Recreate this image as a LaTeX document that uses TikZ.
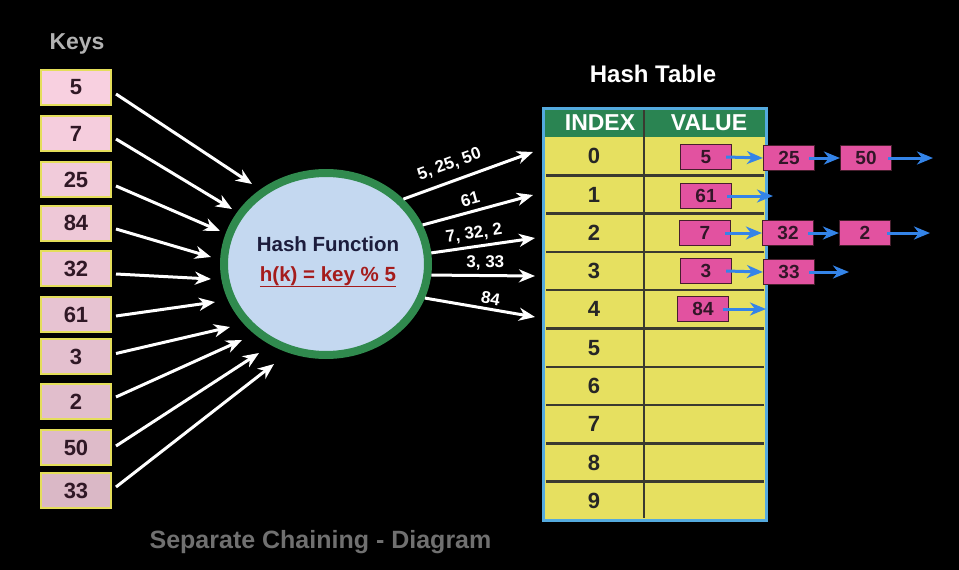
\documentclass[tikz,border=0pt]{standalone}
\usepackage{fontspec}
\setmainfont{Liberation Sans}
\usetikzlibrary{arrows.meta,shapes.geometric,calc}
\definecolor{keytop}{RGB}{248,208,224}
\definecolor{keybot}{RGB}{218,184,198}
\definecolor{keyborder}{RGB}{228,222,90}
\definecolor{keytext}{RGB}{48,24,38}
\definecolor{hfblue}{RGB}{196,216,240}
\definecolor{hfgreen}{RGB}{48,138,78}
\definecolor{hfnavy}{RGB}{28,28,60}
\definecolor{hfred}{RGB}{165,28,28}
\definecolor{tyellow}{RGB}{230,224,96}
\definecolor{thead}{RGB}{42,132,82}
\definecolor{tborder}{RGB}{84,170,222}
\definecolor{tline}{RGB}{58,58,48}
\definecolor{vpink}{RGB}{226,82,160}
\definecolor{vborder}{RGB}{70,30,45}
\definecolor{vtext}{RGB}{50,22,40}
\definecolor{ablue}{RGB}{52,132,232}
\definecolor{keysgray}{RGB}{178,178,178}
\definecolor{capgray}{RGB}{112,112,112}
\newcommand\fsz[1]{\fontsize{#1}{#1}\selectfont\bfseries}
\begin{document}
\begin{tikzpicture}[x=1pt,y=-1pt,
 keybox/.style={draw=keyborder,line width=2pt,minimum width=70pt,minimum height=35pt,inner sep=0pt,text=keytext,font=\fsz{22}},
 warrow/.style={draw=white,line width=3pt,-{Stealth[length=16pt,width=13pt,inset=5pt]}},
 barrow/.style={draw=ablue,line width=3pt,-{Stealth[length=16pt,width=13pt,inset=5pt]}},
 vbox/.style={draw=vborder,line width=1.2pt,fill=vpink,minimum width=51pt,minimum height=25pt,inner sep=0pt,text=vtext,font=\fsz{19}},
 idx/.style={text=black!85,font=\fsz{22}},
 hdr/.style={text=white,font=\fsz{23}},
 flow/.style={text=white,font=\fsz{17},sloped,inner sep=1pt}
]
\fill[black] (0,0) rectangle (959,570);
\useasboundingbox (0,0) rectangle (959,570);

% titles
\node[text=keysgray,font=\fsz{23},anchor=base] (keystitle) at (77,49) {Keys};
\node[text=white,font=\fsz{24},anchor=base] (tabletitle) at (653,82) {Hash Table};
\node[text=capgray,font=\fsz{25},anchor=base] (caption) at (320.5,548) {Separate Chaining - Diagram};

% hash function
\node[ellipse,draw=hfgreen,line width=8pt,fill=hfblue,minimum width=204pt,minimum height=182pt,inner sep=0pt] (hf) at (326,264) {};
\node[text=hfnavy,font=\fsz{20.5},anchor=base] (hftext) at (328,251) {Hash Function};
\node[text=hfred,font=\fsz{20.5},anchor=base] (hfform) at (328,281) {\underline{h(k) = key \% 5}};

% keys and arrows to the hash function
\coordinate (e1) at (252,184);
\coordinate (e2) at (232,209);
\coordinate (e3) at (220,231);
\coordinate (e4) at (211,257);
\coordinate (e5) at (211,279);
\coordinate (e6) at (215,302);
\coordinate (e7) at (230,327);
\coordinate (e8) at (242,340);
\coordinate (e9) at (259,353);
\coordinate (e10) at (274,364);
\foreach \v/\y/\dy [count=\i] in {5/87.5/6.5, 7/133.5/5.5, 25/179.5/6.5, 84/223/6, 32/268.5/5.5, 61/314.5/1.5, 3/356.5/-3, 2/401.5/-4.5, 50/447.5/-1.5, 33/490.5/-3.5}{
  \pgfmathtruncatemacro\pct{100-(\i-1)*11}
  \node[keybox,fill=keytop!\pct!keybot] (k\i) at (76,\y) {\v};
  \draw[warrow] ($(k\i.east)+(4,\dy)$) -- (e\i);
}

% table
\fill[tyellow] (543,108) rectangle (766,520);
\fill[thead] (543,108) rectangle (766,137);
\foreach \k in {1,...,9}
  \draw[tline,line width=2.5pt] (546,{137+38.3*\k}) -- (764,{137+38.3*\k});
\draw[tline,line width=2.5pt] (644,110) -- (644,518);
\draw[tborder,line width=3pt] (543,108) rectangle (766,520);
\node[hdr] (hidx) at (600,123) {INDEX};
\node[hdr] (hval) at (709,123) {VALUE};
\foreach \k in {0,...,9}
  \node[idx] (i\k) at (594,{137+38.3*(\k+0.5)}) {\k};

% arrows from hash function to table
\coordinate (t0) at (533,152);
\coordinate (t1) at (533,195);
\coordinate (t2) at (535,238);
\coordinate (t3) at (535,276);
\coordinate (t4) at (535,317);
\draw[warrow] (hf.40) -- (t0) node[flow,pos=0.40,above=7pt] (l0) {5, 25, 50};
\draw[warrow] (hf.22) -- (t1) node[flow,pos=0.46,above=4pt] (l1) {61};
\draw[warrow] (hf.6) -- (t2) node[flow,pos=0.43,above=3pt] (l2) {7, 32, 2};
\draw[warrow] (hf.-6) -- (t3) node[flow,pos=0.52,above=3pt] (l3) {3, 33};
\draw[warrow] (hf.-19) -- (t4) node[flow,pos=0.58,above=2pt] (l4) {84};

% chains
\node[vbox] (v5) at (706,157) {5};
\node[vbox] (v25) at (789,158) {25};
\node[vbox] (v50) at (866,158) {50};
\node[vbox] (v61) at (706,196) {61};
\node[vbox] (v7) at (705,233) {7};
\node[vbox] (v32) at (788,233) {32};
\node[vbox] (v2) at (865,233) {2};
\node[vbox] (v3) at (706,271) {3};
\node[vbox] (v33) at (789,272) {33};
\node[vbox] (v84) at (703,309) {84};
\coordinate (n50) at (933,158);
\coordinate (n61) at (773,196);
\coordinate (n2) at (930,233);
\coordinate (n33) at (849,272);
\coordinate (n84) at (766,309);
\draw[barrow] ($(v5.east)+(-6,0)$) -- (v25.west);
\draw[barrow] ($(v25.east)+(-6,0)$) -- (v50.west);
\draw[barrow] ($(v50.east)+(-4,0)$) -- (n50);
\draw[barrow] ($(v61.east)+(-5,0)$) -- (n61);
\draw[barrow] ($(v7.east)+(-6,0)$) -- (v32.west);
\draw[barrow] ($(v32.east)+(-6,0)$) -- (v2.west);
\draw[barrow] ($(v2.east)+(-4,0)$) -- (n2);
\draw[barrow] ($(v3.east)+(-6,0)$) -- (v33.west);
\draw[barrow] ($(v33.east)+(-6,0)$) -- (n33);
\draw[barrow] ($(v84.east)+(-6,0)$) -- (n84);
\end{tikzpicture}
\end{document}
